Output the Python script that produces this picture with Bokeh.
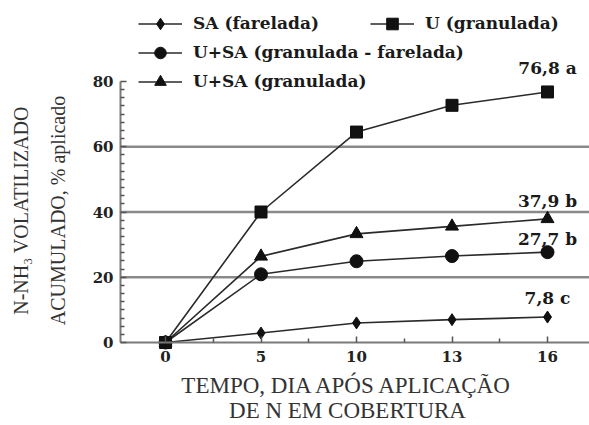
import numpy as np
from bokeh.plotting import figure
from bokeh.models import FixedTicker, Legend, LegendItem, ColumnDataSource, Range1d, Label
from bokeh.core.properties import value
from bokeh.embed import file_html
from bokeh.resources import INLINE

# ---- data ----
days = ["0", "5", "10", "13", "16"]
sa_farelada = [0, 2.9, 6.0, 7.0, 7.8]
u_granulada = [0, 40.0, 64.5, 72.7, 76.8]
usa_gran_far = [0, 20.9, 24.9, 26.5, 27.7]
usa_granulada = [0, 26.4, 33.3, 35.6, 37.9]
series_names = ["SA (farelada)", "U (granulada)",
                "U+SA (granulada - farelada)", "U+SA (granulada)"]
end_labels = ["7,8 c", "76,8 a", "27,7 b", "37,9 b"]
y_ticks = [0, 20, 40, 60, 80]
grid_values = [20, 40, 60]
x_title = ["TEMPO, DIA APÓS APLICAÇÃO", "DE N EM COBERTURA"]
y_title = ["N-NH\u2083 VOLATILIZADO", "ACUMULADO, % aplicado"]

xpos = list(range(len(days)))
serif = "Liberation Serif"
bserif = "DejaVu Serif"
line_col = "#2a2a2a"
mark_col = "#111111"

# layout: the frame fills the whole canvas; axes are pinned inside it
W, H = 589, 425
x_px0, x_step = 165.0, 95.5          # pixel of first category, pixels per category
y_px0, y_scale = 342.0, 3.2625       # pixel of y=0, pixels per unit
x_start, x_end = -x_px0 / x_step, (W - x_px0) / x_step
y_start, y_end = -(H - y_px0) / y_scale, y_px0 / y_scale
x_axis_left = (120 - x_px0) / x_step

p = figure(width=W, height=H,
           x_range=Range1d(x_start, x_end), y_range=Range1d(y_start, y_end),
           output_backend="svg", toolbar_location=None, min_border=0,
           min_border_left=0, min_border_right=0, min_border_top=0, min_border_bottom=0)
p.outline_line_color = None
p.background_fill_color = "white"
p.border_fill_color = "white"
p.grid.visible = False

# horizontal reference lines starting at the y axis
p.segment(x0=[x_axis_left] * len(grid_values), x1=[x_end] * len(grid_values),
          y0=grid_values, y1=grid_values, line_color="#8a8a8a", line_width=2.5)

series = [sa_farelada, u_granulada, usa_gran_far, usa_granulada]
markers = ["diamond", "square", "circle", "triangle"]
msizes = [12, 12, 13, 13]
draw_order = [0, 2, 3, 1]
rmap = {}
for i in draw_order:
    src = ColumnDataSource(dict(x=xpos, y=series[i]))
    lr = p.line("x", "y", source=src, line_color=line_col, line_width=1.6)
    sr = p.scatter("x", "y", source=src, marker=markers[i], size=msizes[i],
                   fill_color=mark_col, line_color=mark_col)
    rmap[i] = [lr, sr]

# end labels
lab_src = ColumnDataSource(dict(
    x=[xpos[-1]] * 4,
    y=[s[-1] for s in series],
    t=end_labels,
    dy=[-19, -24, -13, -18],
))
p.text("x", "y", text="t", source=lab_src, y_offset="dy",
       text_font=value(bserif), text_font_style="bold", text_font_size="17px",
       text_align="center", text_baseline="middle", text_color="#1a1a1a")

# axes pinned at data locations
xa = p.xaxis[0]
xa.fixed_location = 0
xa.bounds = (x_axis_left, x_end)
xa.ticker = FixedTicker(ticks=xpos, minor_ticks=[i + 0.5 for i in xpos[:-1]])
xa.major_label_overrides = {i: d for i, d in zip(xpos, days)}
ya = p.yaxis[0]
ya.fixed_location = x_axis_left
ya.bounds = (0, 80)
ya.ticker = FixedTicker(ticks=y_ticks,
                        minor_ticks=[v for v in np.arange(0, 80.1, 2.5).tolist() if v not in y_ticks])
for ax in (xa, ya):
    ax.axis_line_color = "#7a7a7a"
    ax.axis_line_width = 2
    ax.major_tick_in = 6
    ax.major_tick_out = 0
    ax.minor_tick_in = 4
    ax.minor_tick_out = 0
    ax.major_tick_line_color = "#555555"
    ax.minor_tick_line_color = "#555555"
    ax.major_tick_line_width = 1.5
    ax.minor_tick_line_width = 1.5
    ax.major_label_text_font = bserif
    ax.major_label_text_font_style = "bold"
    ax.major_label_text_font_size = "15px"
    ax.major_label_text_color = "#222222"
ya.major_label_standoff = 7
xa.major_label_standoff = 8

# axis titles (screen units measured from the frame's bottom-left)
for txt, yy in zip(x_title, [H - 385, H - 410]):
    p.add_layout(Label(x=347, y=yy, x_units="screen", y_units="screen", text=txt,
                       text_align="center", text_baseline="middle",
                       text_font=serif, text_font_size="23px", text_color="#333333"))
for txt, xx in zip(y_title, [20, 57]):
    p.add_layout(Label(x=xx, y=H - 210, x_units="screen", y_units="screen", text=txt,
                       angle=np.pi / 2, angle_units="rad",
                       text_align="center", text_baseline="middle",
                       text_font=serif, text_font_size="20px", text_color="#333333"))

leg_kw = dict(background_fill_alpha=0, border_line_color=None, padding=0, margin=0,
              spacing=0, glyph_width=44, glyph_height=29, label_standoff=11,
              label_height=29, label_text_font=bserif, label_text_font_style="bold",
              label_text_font_size="17px", label_text_color="#1a1a1a",
              label_text_baseline="middle")
legA = Legend(items=[LegendItem(label=series_names[i], renderers=rmap[i]) for i in (0, 2, 3)],
              location=(138, H - 95.5), orientation="vertical", **leg_kw)
legB = Legend(items=[LegendItem(label=series_names[1], renderers=rmap[1])],
              location=(370, H - 37.5), orientation="vertical", **leg_kw)
p.add_layout(legA)
p.add_layout(legB)

open("out.html", "w").write(file_html(p, INLINE))
